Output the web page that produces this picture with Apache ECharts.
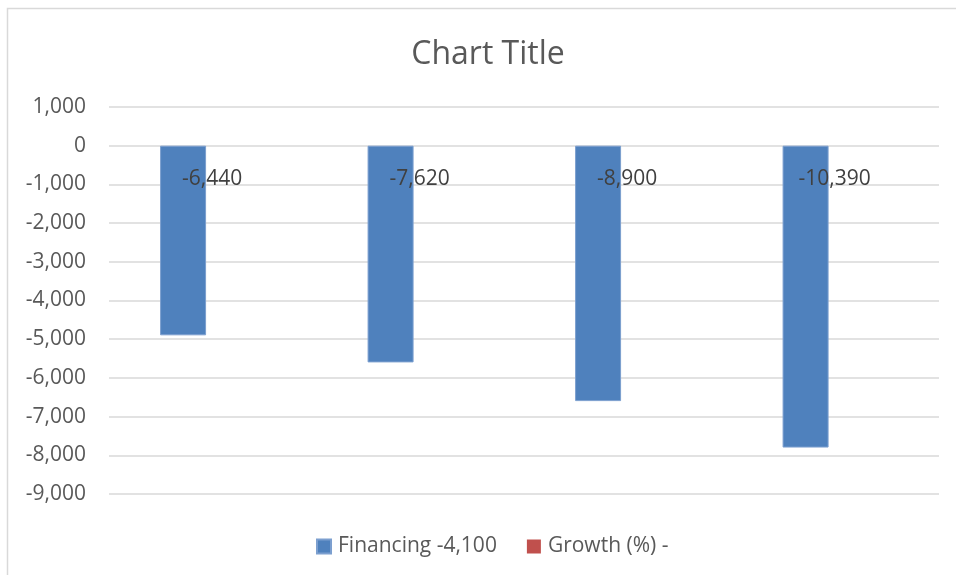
<!DOCTYPE html>
<html>
<head>
<meta charset="utf-8">
<title>Chart Title</title>
<script src="https://cdn.jsdelivr.net/npm/echarts@6/dist/echarts.min.js"></script>
<style>
  html, body { margin: 0; padding: 0; background: #fff; }
  #chart { width: 956px; height: 575px; }
</style>
</head>
<body>
<div id="chart"></div>
<script>
// categories have no visible labels in the original
const categories = ['1', '2', '3', '4'];
const financing = [-4900, -5600, -6600, -7800];
const growth = [0, 0, 0, 0];
const financingLabels = ['-6,440', '-7,620', '-8,900', '-10,390'];
const seriesNames = ['Financing -4,100', 'Growth (%) -'];

const FONT = '"Open Sans", "Liberation Sans", sans-serif';

const chart = echarts.init(document.getElementById('chart'));

const options = {
  animation: false,
  textStyle: { fontFamily: FONT },
  title: {
    text: 'Chart Title',
    left: 488,
    top: 39,
    padding: 0,
    textAlign: 'center',
    textStyle: { fontFamily: FONT, fontSize: 32, fontWeight: 'normal', color: '#595959' }
  },
  // thin chart-area border (only top and left edges are in frame)
  graphic: [{
    type: 'rect',
    shape: { x: 7.5, y: 8.5, width: 1200, height: 1200 },
    style: { fill: 'none', stroke: '#d9d9d9', lineWidth: 1.5 },
    silent: true
  }],
  grid: { left: 109, right: 17, top: 107, bottom: 81, containLabel: false },
  legend: {
    data: seriesNames,
    left: 316,
    top: 536,
    padding: 0,
    itemWidth: 14,
    itemHeight: 14,
    itemGap: 30,
    icon: 'rect',
    textStyle: { fontFamily: FONT, fontSize: 21, color: '#595959', padding: [0, 0, 0, 2] }
  },
  xAxis: {
    type: 'category',
    data: categories,
    axisLine: { show: false },
    axisTick: { show: false },
    axisLabel: { show: false }
  },
  yAxis: {
    type: 'value',
    min: -9000,
    max: 1000,
    interval: 1000,
    axisLine: { show: false },
    axisTick: { show: false },
    axisLabel: {
      margin: 23,
      fontFamily: FONT,
      fontSize: 21,
      color: '#595959',
      formatter: v => v.toLocaleString('en-US')
    },
    splitLine: { lineStyle: { color: '#d9d9d9', width: 1.5 } }
  },
  series: [
    {
      name: seriesNames[0],
      type: 'bar',
      data: financing,
      barWidth: 46,
      barGap: '29%',
      itemStyle: { color: '#4f81bd', borderColor: '#7c9fcf', borderWidth: 1 },
      label: {
        show: true,
        position: 'insideTop',
        offset: [29, 18],
        fontFamily: FONT,
        fontSize: 21,
        color: '#404040',
        formatter: p => financingLabels[p.dataIndex]
      }
    },
    {
      name: seriesNames[1],
      type: 'bar',
      data: growth,
      barWidth: 46,
      itemStyle: { color: '#c0504d' }
    }
  ]
};

chart.setOption(options);
</script>
</body>
</html>
